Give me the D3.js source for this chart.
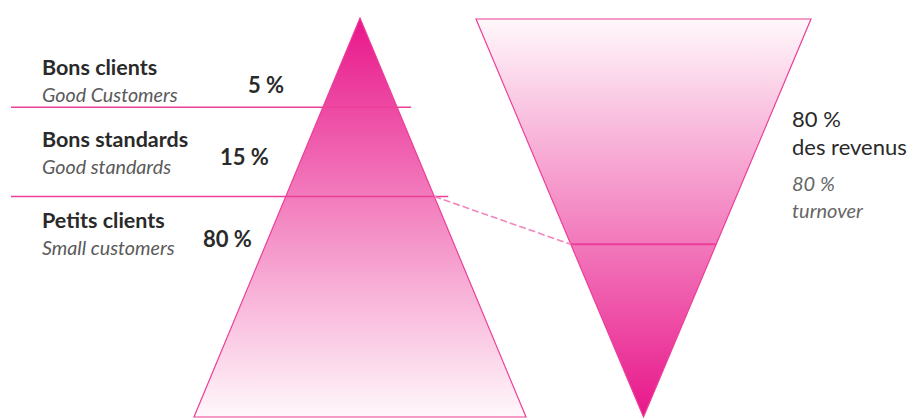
<!DOCTYPE html>
<html>
<head>
<meta charset="utf-8">
<script src="https://cdn.jsdelivr.net/npm/d3@7"></script>
<style>
  body { margin: 0; background: #fff; }
  text { font-family: Lato, "Open Sans", sans-serif; }
</style>
</head>
<body>
<div id="chart"></div>
<script>
// Customer tiers (left pyramid, share of customers by area)
var tiers = ["Bons clients", "Bons standards", "Petits clients"];
var tiersEn = ["Good Customers", "Good standards", "Small customers"];
var customerShare = [5, 15, 80];

// Revenue split (right pyramid, share of area: top part, bottom part)
var revenueShare = [80, 20];
var revenueLabel = ["80 %", "des revenus"];
var revenueLabelEn = ["80 %", "turnover"];

var svgWidth = 911;
var svgHeight = 419;
var pink = "#ec3f98";
var deep = "#e8168a";

var svg = d3.select("#chart")
    .append("svg")
    .attr("width", svgWidth)
    .attr("height", svgHeight);

// gradients
var defs = svg.append("defs");
var gUp = defs.append("linearGradient").attr("id", "gUp")
    .attr("x1", 0).attr("y1", 0).attr("x2", 0).attr("y2", 1);
gUp.append("stop").attr("offset", "0%").attr("stop-color", deep);
gUp.append("stop").attr("offset", "100%").attr("stop-color", "#fff8fb");

var gDown = defs.append("linearGradient").attr("id", "gDown")
    .attr("x1", 0).attr("y1", 0).attr("x2", 0).attr("y2", 1);
gDown.append("stop").attr("offset", "0%").attr("stop-color", "#fff8fb");
gDown.append("stop").attr("offset", "100%").attr("stop-color", deep);

// Left pyramid: apex at top, area proportional to cumulative share
var L = { cx: 360, top: 18, h: 399, half: 166 };
var leftDepth = d3.scaleSqrt().domain([0, 100]).range([0, L.h]);
var leftHalf = d3.scaleLinear().domain([0, L.h]).range([0, L.half]);

// Right pyramid: apex at bottom
var R = { cx: 643.5, bottom: 417, h: 398, half: 167.5 };
var rightDepth = d3.scaleSqrt().domain([0, 100]).range([0, R.h * 0.97]);
var rightHalf = d3.scaleLinear().domain([0, R.h]).range([0, R.half]);

var line = d3.line();

// left triangle
svg.append("path")
    .attr("d", line([
        [L.cx, L.top],
        [L.cx + leftHalf(L.h), L.top + L.h],
        [L.cx - leftHalf(L.h), L.top + L.h]
    ]) + "Z")
    .attr("fill", "url(#gUp)")
    .attr("stroke", pink)
    .attr("stroke-width", 1.2);

// right triangle
svg.append("path")
    .attr("d", line([
        [R.cx - rightHalf(R.h), R.bottom - R.h],
        [R.cx + rightHalf(R.h), R.bottom - R.h],
        [R.cx, R.bottom]
    ]) + "Z")
    .attr("fill", "url(#gDown)")
    .attr("stroke", pink)
    .attr("stroke-width", 1.2);

// tier boundaries on the left pyramid
var cum = d3.cumsum(customerShare);
var bounds = Array.from(cum).slice(0, -1);
svg.selectAll(".tierLine")
    .data(bounds)
    .enter()
    .append("line")
    .attr("class", "tierLine")
    .attr("x1", 11)
    .attr("x2", d => L.cx + leftHalf(leftDepth(d)) + 14)
    .attr("y1", d => L.top + leftDepth(d))
    .attr("y2", d => L.top + leftDepth(d))
    .attr("stroke", pink)
    .attr("stroke-width", 1.6);

// divider on the right pyramid (bottom part of the area)
var divDepth = rightDepth(revenueShare[1]);
var divY = R.bottom - divDepth;
svg.append("line")
    .attr("x1", R.cx - rightHalf(divDepth))
    .attr("x2", R.cx + rightHalf(divDepth))
    .attr("y1", divY)
    .attr("y2", divY)
    .attr("stroke", pink)
    .attr("stroke-width", 2);

// dashed connector from the 20 % customers line to the revenue divider
var b2 = bounds[bounds.length - 1];
svg.append("line")
    .attr("x1", L.cx + leftHalf(leftDepth(b2)))
    .attr("y1", L.top + leftDepth(b2))
    .attr("x2", R.cx - rightHalf(divDepth))
    .attr("y2", divY)
    .attr("stroke", "#f286bd")
    .attr("stroke-width", 1.6)
    .attr("stroke-dasharray", "7,3");

// labels
var titleY = d3.scaleOrdinal().domain(tiers).range([75, 147, 228]);
var pctY = d3.scaleOrdinal().domain(tiers).range([93, 165, 247]);
var pctX = d3.scaleOrdinal().domain(tiers).range([248, 220, 203]);

var rows = svg.selectAll(".tier")
    .data(tiers)
    .enter()
    .append("g")
    .attr("class", "tier");

rows.append("text")
    .attr("x", 42)
    .attr("y", d => titleY(d))
    .attr("font-size", 21.5)
    .attr("font-weight", "bold")
    .attr("fill", "#2a2a2a")
    .text(d => d);

rows.append("text")
    .attr("x", 42)
    .attr("y", d => titleY(d) + 27)
    .attr("font-size", 19.7)
    .attr("font-style", "italic")
    .attr("fill", "#5a5a5a")
    .text((d, i) => tiersEn[i]);

rows.append("text")
    .attr("x", d => pctX(d))
    .attr("y", d => pctY(d))
    .attr("font-size", 22)
    .attr("font-weight", "bold")
    .attr("fill", "#2a2a2a")
    .text((d, i) => customerShare[i] + " %");

// right side labels
var rx = 792;
svg.selectAll(".revLabel")
    .data(revenueLabel)
    .enter()
    .append("text")
    .attr("class", "revLabel")
    .attr("x", rx)
    .attr("y", (d, i) => 127 + i * 28)
    .attr("font-size", 22)
    .attr("fill", "#2a2a2a")
    .text(d => d);

svg.selectAll(".revLabelEn")
    .data(revenueLabelEn)
    .enter()
    .append("text")
    .attr("class", "revLabelEn")
    .attr("x", rx)
    .attr("y", (d, i) => 191 + i * 27)
    .attr("font-size", 20)
    .attr("font-style", "italic")
    .attr("fill", "#666")
    .text(d => d);
</script>
</body>
</html>
